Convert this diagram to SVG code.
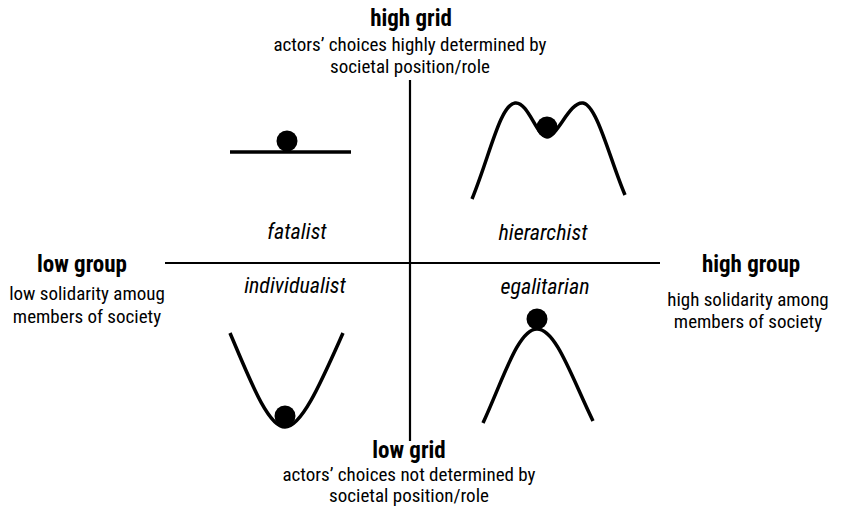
<svg xmlns="http://www.w3.org/2000/svg" width="845" height="507" viewBox="0 0 845 507">
<style>
text{font-family:"Liberation Sans Narrow","Roboto Condensed","Liberation Sans",Arial,sans-serif;fill:#000;text-anchor:middle}
.h{font-size:23px;font-weight:bold}
.s{font-size:19px}
.q{font-size:22px;font-style:italic}
.ax{stroke:#000;stroke-width:2.2;fill:none}
.c{stroke:#000;stroke-width:3.5;fill:none;stroke-linecap:butt}
</style>
<rect width="845" height="507" fill="#fff"/>
<g id="connectors">
<line class="ax" x1="410" y1="80" x2="410" y2="441"/>
<line class="ax" x1="165" y1="263" x2="660" y2="263"/>
</g>
<g id="high-grid">
<text class="h" x="411" y="26">high grid</text>
<text class="s" x="410" y="51">actors’ choices highly determined by</text>
<text class="s" x="410" y="73">societal position/role</text>
</g>
<g id="low-grid">
<text class="h" x="409" y="458">low grid</text>
<text class="s" x="409" y="481">actors’ choices not determined by</text>
<text class="s" x="409" y="502">societal position/role</text>
</g>
<g id="low-group">
<text class="h" x="82" y="272">low group</text>
<text class="s" x="87" y="300">low solidarity amoug</text>
<text class="s" x="87" y="323">members of society</text>
</g>
<g id="high-group">
<text class="h" x="751" y="272">high group</text>
<text class="s" x="748" y="306">high solidarity among</text>
<text class="s" x="748" y="328">members of society</text>
</g>
<g id="fatalist">
<line class="c" x1="230" y1="152" x2="351" y2="152"/>
<circle cx="287" cy="141" r="10.5"/>
<text class="q" x="297" y="239">fatalist</text>
</g>
<g id="hierarchist">
<path class="c" d="M472,199 C490,155 500,105 515,103 C528,101 537,137 547,137 C557,137 570,101 583,103 C597,105 610,160 625,195"/>
<circle cx="547" cy="127" r="10.5"/>
<text class="q" x="543" y="240">hierarchist</text>
</g>
<g id="individualist">
<path class="c" d="M230,333 C250,380 268,427 285,427 C302,427 322,380 343,333"/>
<circle cx="285" cy="416" r="10.5"/>
<text class="q" x="295" y="293">individualist</text>
</g>
<g id="egalitarian">
<path class="c" d="M483,423 C503,380 518,329 537,329 C556,329 572,378 593,421"/>
<circle cx="537" cy="319" r="10.5"/>
<text class="q" x="545" y="294">egalitarian</text>
</g>
</svg>
